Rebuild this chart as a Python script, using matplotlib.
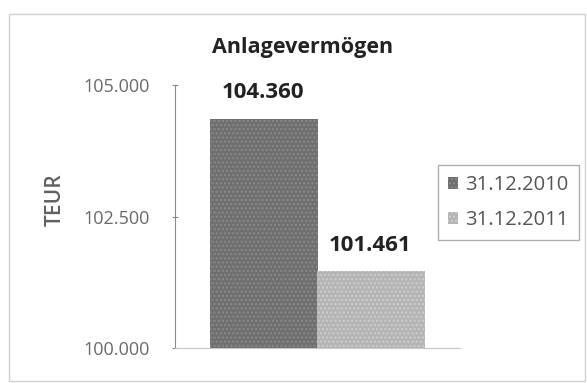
import matplotlib
matplotlib.use("Agg")
import matplotlib.pyplot as plt
from matplotlib.patches import Rectangle

plt.rcParams['font.family'] = ['Open Sans', 'DejaVu Sans']

title = "Anlagevermögen"
series_labels = ["31.12.2010", "31.12.2011"]
values = [104.360, 101.461]
value_labels = ["104.360", "101.461"]
y_ticks = [100.0, 102.5, 105.0]
y_tick_labels = ["100.000", "102.500", "105.000"]
y_label = "TEUR"

colors = ["#6f6f6f", "#b4b4b4"]
hatch_colors = ["#8a8a8a", "#cdcdcd"]

W, H = 587, 383
fig = plt.figure(figsize=(W / 100, H / 100), dpi=100)

# chart frame
fig.patches.append(Rectangle((9 / W, 2 / H), 576 / W, 367 / H, transform=fig.transFigure,
                             fill=False, edgecolor="#d0d0d0", linewidth=1.0))

ax = fig.add_axes([175 / W, 1 - 348 / H, 285 / W, (348 - 85) / H])
offsets = [-0.188, 0.188]
width = 0.377
for off, v, c, hc, lab in zip(offsets, values, colors, hatch_colors, series_labels):
    ax.bar(off, v - 100.0, bottom=100.0, width=width, color=c, edgecolor=hc,
           hatch="....", linewidth=0, label=lab)

for off, v, txt in zip(offsets, values, value_labels):
    ax.annotate(txt, (off, v), xytext=(-1, 11), textcoords="offset points",
                ha="center", va="bottom", fontsize=16, fontweight="bold", color="#222222")

ax.set_xlim(-0.5, 0.5)
ax.set_ylim(100, 105)
ax.set_yticks(y_ticks)
ax.set_yticklabels(y_tick_labels, fontsize=13, color="#6a6a6a")
ax.tick_params(axis="y", length=4, direction="inout", color="#8a8a8a", pad=16)
ax.set_xticks([])
for s in ["top", "right"]:
    ax.spines[s].set_visible(False)
ax.spines["left"].set_color("#8a8a8a")
ax.spines["bottom"].set_color("#c8c8c8")

fig.text(55 / W, 1 - 200 / H, y_label, rotation=90, ha="center", va="center",
         fontsize=15, fontweight="semibold", color="#606060")
fig.text(303 / W, 1 - 47 / H, title, ha="center", va="center",
         fontsize=15.5, fontweight="bold", color="#222222")

leg = fig.legend(loc="upper left", bbox_to_anchor=(438 / W, 1 - 165 / H),
                 fontsize=14.5, frameon=True, fancybox=False, handlelength=0.5,
                 handleheight=0.5, handletextpad=0.35, labelspacing=0.75,
                 borderpad=0.5, borderaxespad=0, labelcolor="#555555")
leg.get_frame().set_edgecolor("#9a9a9a")
leg.get_frame().set_linewidth(1.0)

fig.savefig("out.png", dpi=100)
